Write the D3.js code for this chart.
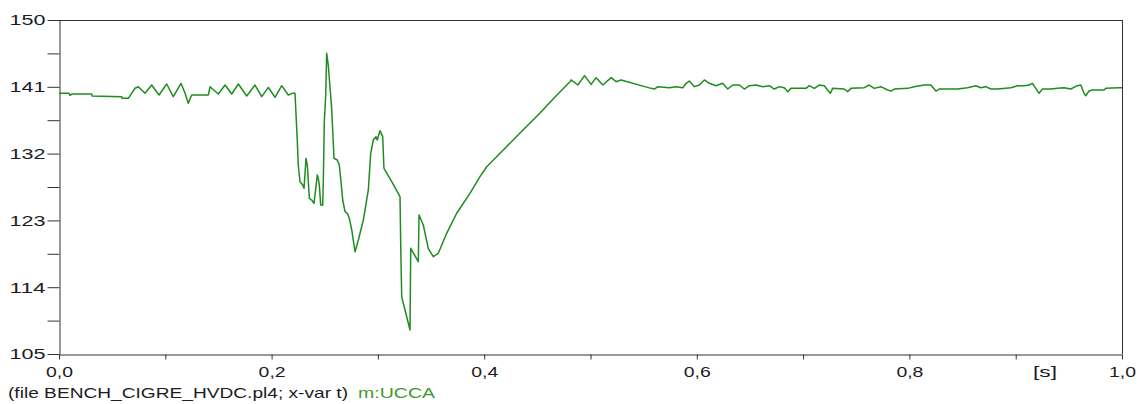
<!DOCTYPE html>
<html>
<head>
<meta charset="utf-8">
<script src="https://cdn.jsdelivr.net/npm/d3@7"></script>
<style>
  html, body { margin: 0; padding: 0; background: #ffffff; }
  svg { display: block; }
  text { font-family: "Liberation Sans", Arial, sans-serif; }
</style>
</head>
<body>
<svg id="chart" width="1143" height="404"></svg>
<script>
// ---- data ----
const times = [
  0, 0.0094, 0.0103, 0.0122, 0.0308, 0.031, 0.0402, 0.059, 0.0593, 0.0652,
  0.0715, 0.0746, 0.0809, 0.0872, 0.0941, 0.1013, 0.1075, 0.1148, 0.1185, 0.1216,
  0.1248, 0.1405, 0.1421, 0.1499, 0.1562, 0.1625, 0.1687, 0.1766, 0.1844, 0.1907,
  0.1969, 0.2032, 0.2095, 0.2157, 0.2195,
  0.222, 0.223, 0.2242, 0.2251, 0.2267, 0.2293, 0.2305, 0.2324, 0.2336, 0.2355,
  0.2377, 0.2399, 0.243, 0.2439, 0.2449, 0.2462, 0.2481, 0.2486, 0.2496, 0.2509,
  0.2518, 0.2533, 0.2549, 0.2565, 0.2587, 0.2618, 0.2637, 0.2653, 0.2669, 0.2691,
  0.2712, 0.2731, 0.2754, 0.2785, 0.2816, 0.2863, 0.291, 0.2932, 0.2957, 0.2982,
  0.2994, 0.302, 0.3045, 0.3057, 0.3133, 0.3208, 0.3215, 0.3224, 0.3255, 0.3302,
  0.3309, 0.338, 0.3387, 0.3427, 0.3474, 0.3521, 0.3568, 0.3647, 0.3741, 0.3866,
  0.396, 0.4024, 0.4149, 0.4337, 0.4525, 0.4666, 0.4807,
  0.4818, 0.4881, 0.4944, 0.5006, 0.5053, 0.5116, 0.5194, 0.5241, 0.5288,
  0.557, 0.5602, 0.5633, 0.5742, 0.5805, 0.5868, 0.5899, 0.593, 0.5977, 0.6024,
  0.6071, 0.6118, 0.6181, 0.6243, 0.6291, 0.6338, 0.6401, 0.6447, 0.6494, 0.6557,
  0.662, 0.6682, 0.6729, 0.6776, 0.6823, 0.6855, 0.6886, 0.6955,
  0.7027, 0.7058, 0.7105, 0.7152, 0.7199, 0.723, 0.7256, 0.7278, 0.7387, 0.7419,
  0.745, 0.7575, 0.7622, 0.7669, 0.7732, 0.7795, 0.7826, 0.7857, 0.7983, 0.8045,
  0.814, 0.8202, 0.8249, 0.8281, 0.839, 0.8453, 0.8546, 0.8625, 0.8672, 0.8719,
  0.8766, 0.8829, 0.8954, 0.9017, 0.9079, 0.9126, 0.9157, 0.9189, 0.922, 0.9251,
  0.933, 0.9392, 0.9455, 0.9518, 0.958, 0.9612, 0.9643, 0.9659, 0.969, 0.9721,
  0.9831, 0.9847, 0.9972, 1.0
];
const ucca = [
  140.12, 140.12, 139.85, 140.03, 140.03, 139.76, 139.72, 139.67, 139.45, 139.45,
  140.80, 141.01, 140.12, 141.24, 139.90, 141.38, 139.67, 141.47, 140.16, 138.78,
  139.90, 139.90, 141.01, 140.03, 141.24, 140.03, 141.38, 139.76, 141.24, 139.67,
  140.93, 139.59, 141.15, 139.90, 140.12,
  140.12, 137.20, 133.60, 130.46, 128.21, 127.77, 127.32, 131.37, 130.46, 125.98,
  125.75, 125.30, 129.12, 128.67, 127.77, 125.07, 125.07, 128.00, 136.30, 139.90,
  145.51, 143.94, 141.01, 138.10, 131.37, 131.14, 130.46, 128.21, 125.75, 124.17,
  123.96, 123.28, 121.71, 118.78, 120.36, 123.05, 127.10, 132.04, 133.83, 134.28,
  133.83, 135.09, 134.28, 130.02, 128.17, 126.19, 119.46, 112.72, 110.93, 108.23,
  119.24, 117.44, 123.73, 122.38, 119.24, 118.11, 118.57, 121.26, 123.96, 126.65,
  128.89, 130.23, 132.04, 134.78, 137.47, 139.63, 141.69,
  141.92, 141.24, 142.50, 141.33, 142.23, 141.24, 142.23, 141.69, 141.92,
  140.79, 140.70, 141.02, 140.88, 141.02, 140.88, 141.47, 141.78, 141.02, 141.24,
  141.92, 141.47, 141.15, 141.47, 140.70, 141.24, 141.24, 140.70, 141.15, 141.24,
  141.02, 141.15, 140.70, 141.02, 140.88, 140.34, 140.79, 140.79,
  140.79, 141.15, 140.79, 141.24, 141.15, 140.57, 140.12, 140.79, 140.70, 140.34,
  140.79, 140.88, 141.24, 140.79, 141.02, 140.57, 140.43, 140.70, 140.79, 141.02,
  141.24, 141.24, 140.43, 140.70, 140.70, 140.70, 140.88, 141.15, 140.88, 141.02,
  140.70, 140.70, 140.88, 141.15, 141.15, 141.24, 141.47, 140.79, 140.12, 140.70,
  140.70, 140.79, 140.88, 140.70, 141.15, 141.24, 140.12, 139.80, 140.43, 140.57,
  140.57, 140.79, 140.88, 140.88
];
const yTickValues = [105, 109.5, 114, 118.5, 123, 127.5, 132, 136.5, 141, 145.5, 150];
const yTickLabels = ["105", "", "114", "", "123", "", "132", "", "141", "", "150"];
const xTickValues = [0, 0.1, 0.2, 0.3, 0.4, 0.5, 0.6, 0.7, 0.8, 0.9, 1.0];
const xTickLabels = ["0,0", "", "0,2", "", "0,4", "", "0,6", "", "0,8", "", "1,0"];
const xUnitLabel = "[s]";
const fileLabel = "(file BENCH_CIGRE_HVDC.pl4; x-var t)";
const seriesLabel = "m:UCCA";

// ---- layout ----
const L = 59, R = 1122, T = 20, B = 354;
const svg = d3.select("#chart");
const x = d3.scaleLinear().domain([0, 1]).range([L, R]);
const y = d3.scaleLinear().domain([105, 150]).range([B, T]);
const axisColor = "#333";
const textColor = "#1c1c26";
const lineColor = "#1f8c1f";

// frame (top & right)
svg.append("line").attr("x1", L).attr("x2", R).attr("y1", T + 0.5).attr("y2", T + 0.5)
  .attr("stroke", axisColor).attr("stroke-width", 1);
svg.append("line").attr("x1", R + 0.5).attr("x2", R + 0.5).attr("y1", T).attr("y2", B)
  .attr("stroke", axisColor).attr("stroke-width", 1);

// left axis
const gy = svg.append("g").attr("transform", `translate(${L + 0.5},0)`)
  .call(d3.axisLeft(y).tickValues(yTickValues).tickSize(12).tickSizeOuter(0).tickPadding(2)
    .tickFormat((d, i) => yTickLabels[i]));
gy.selectAll("text").attr("font-size", 15).attr("font-family", "Liberation Sans, Arial, sans-serif")
  .attr("fill", textColor)
  .each(function() { if (this.textContent) d3.select(this).attr("textLength", 36).attr("lengthAdjust", "spacingAndGlyphs"); });

// bottom axis
const gx = svg.append("g").attr("transform", `translate(0,${B + 0.5})`)
  .call(d3.axisBottom(x).tickValues(xTickValues).tickSize(5).tickSizeOuter(0).tickPadding(7)
    .tickFormat((d, i) => xTickLabels[i]));
gx.selectAll("text").attr("font-size", 15).attr("font-family", "Liberation Sans, Arial, sans-serif")
  .attr("fill", textColor)
  .each(function() { if (this.textContent) d3.select(this).attr("textLength", 27).attr("lengthAdjust", "spacingAndGlyphs"); });
[gx, gy].forEach(g => {
  g.selectAll("path.domain").attr("stroke", axisColor);
  g.selectAll(".tick line").attr("stroke", axisColor);
});

// unit label
svg.append("text").attr("x", 1045).attr("y", 377).attr("text-anchor", "middle")
  .attr("font-size", 15).attr("fill", textColor)
  .attr("textLength", 24).attr("lengthAdjust", "spacingAndGlyphs").text(xUnitLabel);

// series line
const pts = times.map((t, i) => [t, ucca[i]]);
svg.append("path").datum(pts)
  .attr("fill", "none").attr("stroke", lineColor).attr("stroke-width", 1.5)
  .attr("stroke-linejoin", "round")
  .attr("d", d3.line().x(d => x(d[0])).y(d => y(d[1])));

// legend line
svg.append("text").attr("x", 8).attr("y", 398).attr("font-size", 15).attr("fill", textColor)
  .attr("textLength", 340).attr("lengthAdjust", "spacingAndGlyphs").text(fileLabel);
svg.append("text").attr("x", 358).attr("y", 398).attr("font-size", 15).attr("fill", "#3a9a2a")
  .attr("textLength", 77).attr("lengthAdjust", "spacingAndGlyphs").text(seriesLabel);
</script>
</body>
</html>
